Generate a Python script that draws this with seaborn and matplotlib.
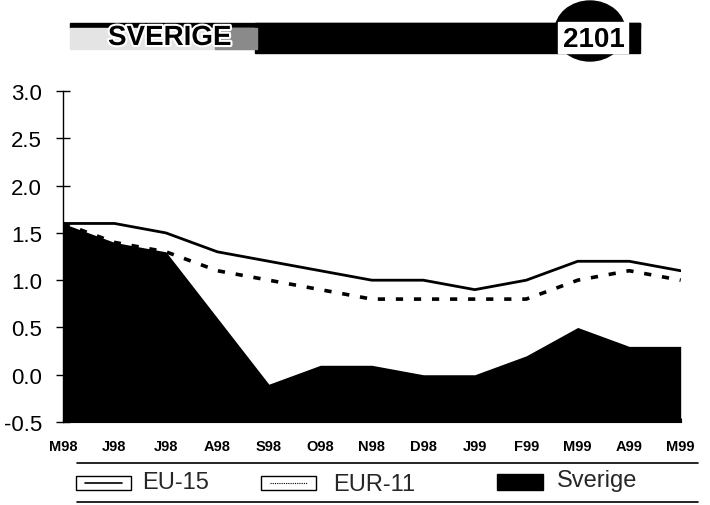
import matplotlib
matplotlib.use("Agg")
import matplotlib.pyplot as plt
import matplotlib.patches as mpatches
import matplotlib.patheffects as pe
import pandas as pd
import seaborn as sns

months = ["M98", "J98", "J98", "A98", "S98", "O98", "N98", "D98",
          "J99", "F99", "M99", "A99", "M99"]
eu15 = [1.6, 1.6, 1.5, 1.3, 1.2, 1.1, 1.0, 1.0, 0.9, 1.0, 1.2, 1.2, 1.1]
eur11 = [1.6, 1.4, 1.3, 1.1, 1.0, 0.9, 0.8, 0.8, 0.8, 0.8, 1.0, 1.1, 1.0]
sverige = [1.6, 1.4, 1.3, 0.6, -0.1, 0.1, 0.1, 0.0, 0.0, 0.2, 0.5, 0.3, 0.3]
yticks = [-0.5, 0.0, 0.5, 1.0, 1.5, 2.0, 2.5, 3.0]

sns.set_theme(style="white")
plt.rcParams["font.family"] = ["Liberation Sans", "DejaVu Sans"]

df = pd.DataFrame({"pos": range(len(months)), "EU-15": eu15,
                   "EUR-11": eur11, "Sverige": sverige})

fig = plt.figure(figsize=(7.1, 5.06), dpi=100)
ax = fig.add_axes([0.0887, 0.164, 0.870, 0.654])

ax.fill_between(df["pos"], -0.5, df["Sverige"], color="black", lw=0)
sns.lineplot(data=df, x="pos", y="EU-15", ax=ax, color="black", lw=2.0)
sns.lineplot(data=df, x="pos", y="EUR-11", ax=ax, color="black", lw=2.6,
             linestyle=(0, (2.0, 3.0)))

ax.set_xlim(0, len(months) - 1)
ax.set_ylim(-0.5, 3.0)
ax.set_xlabel("")
ax.set_ylabel("")
ax.set_yticks(yticks)
ax.set_yticklabels([f"{v:.1f}" for v in yticks], fontsize=16)
ax.set_xticks(range(len(months)))
ax.set_xticklabels(months, fontsize=10.5, fontweight="bold")
ax.tick_params(axis="y", direction="inout", length=10, width=1, pad=10,
               left=True, colors="black")
ax.tick_params(axis="x", direction="in", length=3, width=0.8, pad=12,
               bottom=True, colors="black")
for side in ["top", "right"]:
    ax.spines[side].set_visible(False)
ax.spines["left"].set_color("black")
ax.spines["left"].set_linewidth(1.0)
ax.spines["bottom"].set_color("black")
ax.spines["bottom"].set_linewidth(0.8)
ax.spines["bottom"].set_linestyle((0, (1, 1)))

# Title banner
W, H = 710.0, 506.0
def fx(x): return x / W
def fy(y): return 1 - y / H

# thin black strip across the top, lighter panel behind the country name
fig.patches.append(mpatches.Rectangle((fx(70), fy(29)), fx(570), 5 / H,
                                      transform=fig.transFigure,
                                      color="black", zorder=1))
fig.patches.append(mpatches.Rectangle((fx(70), fy(50)), fx(190), 21 / H,
                                      transform=fig.transFigure,
                                      color="#e4e4e4", zorder=1))
fig.patches.append(mpatches.Rectangle((fx(255), fy(54)), fx(385), 30 / H,
                                      transform=fig.transFigure,
                                      color="black", zorder=1))
fig.patches.append(mpatches.Rectangle((fx(215), fy(50)), fx(42), 21 / H,
                                      transform=fig.transFigure,
                                      color="#8a8a8a", zorder=1))
fig.text(fx(108), fy(39), "SVERIGE", fontsize=20, fontweight="bold",
         color="black", va="center", ha="left", zorder=3,
         path_effects=[pe.withStroke(linewidth=3, foreground="white")])
fig.patches.append(mpatches.Ellipse((fx(590), fy(32)), 70 / W, 60 / H,
                                    transform=fig.transFigure,
                                    color="black", zorder=2))
fig.patches.append(mpatches.Rectangle((fx(558), fy(54)), 70 / W, 31 / H,
                                      transform=fig.transFigure,
                                      color="white", zorder=3))
fig.text(fx(594), fy(40), "2101", fontsize=20, fontweight="bold",
         color="black", va="center", ha="center", zorder=4)

# Legend strip
for yy in (464, 503):
    fig.add_artist(plt.Line2D([fx(77), fx(698)], [fy(yy), fy(yy)],
                              transform=fig.transFigure, color="black", lw=1.2))

def box(x0, kind):
    bw, bh = 55, 14
    y0 = 491
    if kind == "solid":
        fig.patches.append(mpatches.Rectangle((fx(x0), fy(y0)), 46 / W, 16 / H,
                                              transform=fig.transFigure,
                                              color="black"))
        return
    fig.patches.append(mpatches.Rectangle((fx(x0), fy(y0)), bw / W, bh / H,
                                          transform=fig.transFigure,
                                          facecolor="white", edgecolor="black",
                                          lw=1.0))
    ls = "-" if kind == "line" else (0, (1, 1))
    lw = 1.2 if kind == "line" else 0.8
    fig.add_artist(plt.Line2D([fx(x0 + 9), fx(x0 + bw - 9)],
                              [fy(y0 - bh / 2), fy(y0 - bh / 2)],
                              transform=fig.transFigure, color="black",
                              lw=lw, linestyle=ls))

box(76, "line")
fig.text(fx(142), fy(483), "EU-15", fontsize=17, va="center", ha="left")
box(261, "dot")
fig.text(fx(333), fy(485), "EUR-11", fontsize=17, va="center", ha="left")
box(497, "solid")
fig.text(fx(557), fy(481), "Sverige", fontsize=17, va="center", ha="left")

fig.savefig("out.png", dpi=100)
